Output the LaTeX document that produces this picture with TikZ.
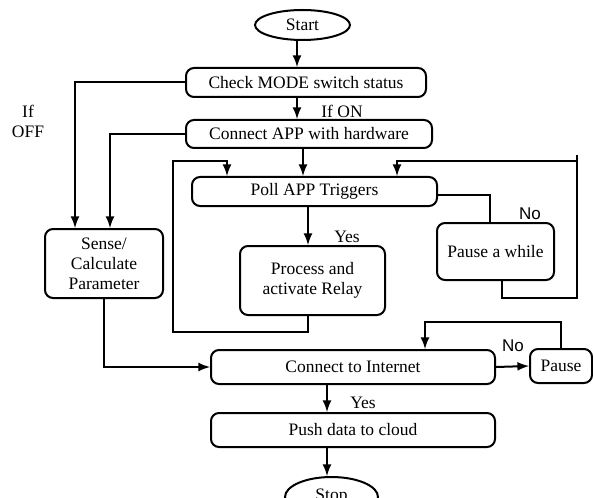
\documentclass[tikz,border=0pt]{standalone}
\usepackage{fontspec}
\setmainfont{Liberation Serif}
\newfontfamily\labelsans{Liberation Sans}
\usepackage{tikz}
\usetikzlibrary{shapes,arrows}
\usetikzlibrary{positioning}

\tikzset{
	box/.style={draw,line width=1pt,rounded corners=4pt,align=center,inner sep=0pt},
	oval/.style={draw,ellipse,line width=1pt,inner sep=0pt},
	wire/.style={line width=1pt},
	arr/.style={->,>=latex,line width=1pt},
	nolbl/.style={font=\labelsans\fontsize{8.5pt}{10pt}\selectfont}
}

\begin{document}
\begin{tikzpicture}[x=0.5pt,y=-0.5pt,every node/.style={font=\fontsize{8.75pt}{10pt}\selectfont}]
		\clip (0,0) rectangle (593,497);
		% blocks
		\node[oval,minimum width=47.5pt,minimum height=15pt] (start) at (302.5,25) {Start};
		\node[box,minimum width=120pt,minimum height=14.5pt] (check) at (306,82.5) {Check MODE switch status};
		\node[box,minimum width=123pt,minimum height=14pt] (app) at (309,134) {Connect APP with hardware};
		\node[box,minimum width=122.5pt,minimum height=14.5pt] (poll) at (314.5,191.5) {Poll APP Triggers};
		\node[box,minimum width=72.5pt,minimum height=34.5pt] (relay) at (312.5,280.5) {Process and\\activate Relay};
		\node[box,minimum width=58.5pt,minimum height=28.5pt] (wait) at (495.5,251.5) {Pause a while};
		\node[box,minimum width=59pt,minimum height=34.5pt] (sense) at (104,263.5) {Sense/\\Calculate\\Parameter};
		\node[box,minimum width=142pt,minimum height=17pt] (net) at (353,367) {Connect to Internet};
		\node[box,minimum width=31pt,minimum height=17pt] (pause) at (561,366) {Pause};
		\node[box,minimum width=142pt,minimum height=17pt] (push) at (353,430) {Push data to cloud};
		\node[oval,minimum width=46.5pt,minimum height=20pt] (stop) at (331.5,497) {Stop};
		
		% labels
		\node[align=center] (ifoff) at (28,121) {If\\OFF};
		\node (ifon) at (342,111) {If ON};
		\node (yes1) at (347,237) {Yes};
		\node[nolbl] (no1) at (530,214) {No};
		\node[nolbl] (no2) at (513,346) {No};
		\node (yes2) at (363,403) {Yes};
		
		% bends
		\coordinate (c1) at (297,0);
		\coordinate (c2) at (303,0);
		\coordinate (c3) at (327,0);
		\coordinate (s1) at (75,0);
		\coordinate (s2) at (110,0);
		\coordinate (l1) at (173,161);
		\coordinate (l2) at (173,332);
		\coordinate (p1) at (227,0);
		\coordinate (p2) at (308,0);
		\coordinate (p4) at (397,0);
		\coordinate (w1) at (490,0);
		\coordinate (r1) at (502,0);
		\coordinate (r2) at (577,298);
		\coordinate (r3) at (577,161);
		\coordinate (r4) at (577,155);
		\coordinate (n1) at (425,322);
		
		% main flow
		\draw[arr] (start.south -| c1) -- (check.north -| c1);
		\draw[arr] (check.south -| c1) -- (app.north -| c1);
		\draw[arr] (app.south -| c2) -- (poll.north -| c2);
		\draw[arr] (poll.south -| p2) -- (relay.north -| p2);
		\draw[arr] (check.west) -| (s1 |- sense.north);
		\draw[arr] (app.west) -| (s2 |- sense.north);
		\draw[arr] (relay.south -| p2) |- (l2) -- (l1) -| (p1 |- poll.north);
		\draw[wire] ([yshift=-1.75pt]poll.east) -| (w1 |- wait.north);
		\draw[wire] (wait.south -| r1) |- (r2) -- (r4);
		\draw[arr] (r3) -| (p4 |- poll.north);
		\draw[arr] (sense.south) |- (net.west);
		\draw[arr] (net.east) -- (pause.west);
		\draw[arr] (pause.north) |- (n1) -- (n1 |- net.north);
		\draw[arr] (net.south -| c3) -- (push.north -| c3);
		\draw[arr] (push.south -| c3) -- (stop.north -| c3);
\end{tikzpicture}
\end{document}
